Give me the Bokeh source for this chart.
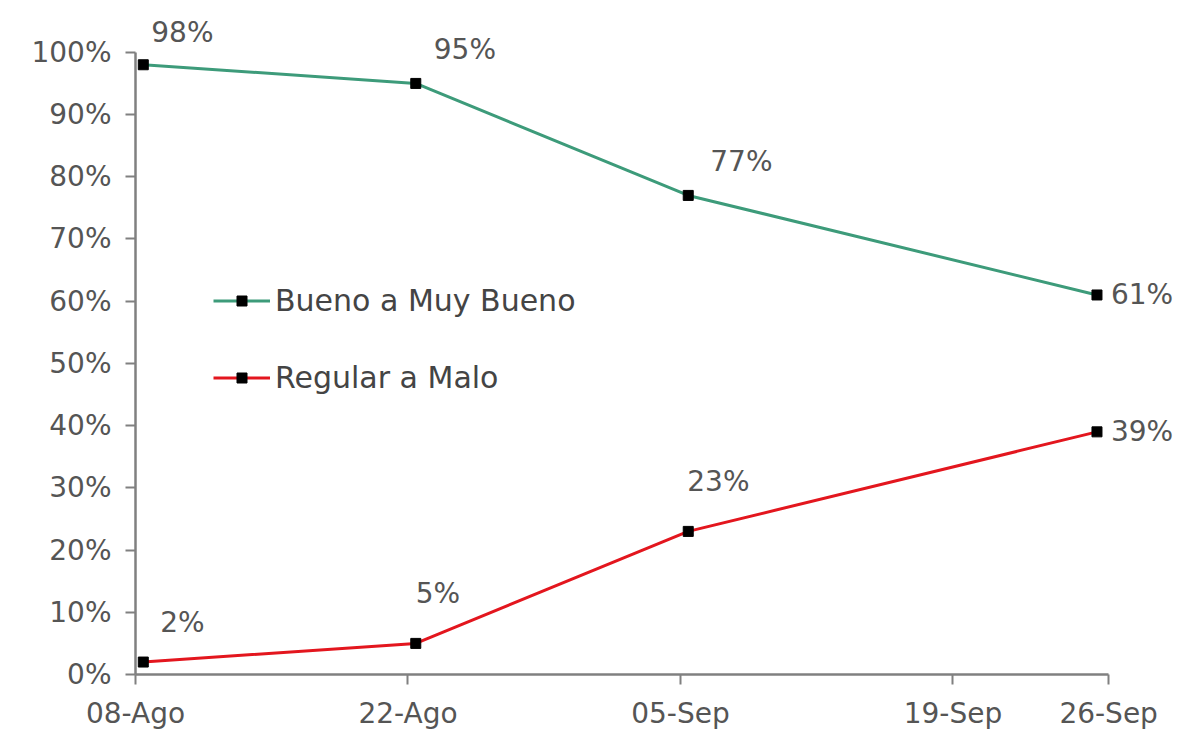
from bokeh.plotting import figure
from bokeh.models import (ColumnDataSource, Range1d, FixedTicker, PrintfTickFormatter,
                          Legend, LegendItem)
from bokeh.transform import dodge
from bokeh.core.properties import value
from bokeh.embed import file_html
from bokeh.resources import INLINE

# ---- data ----
dates = ["08-Ago", "22-Ago", "05-Sep", "26-Sep"]
days = [0, 14, 28, 49]              # days after 08-Ago
bueno = [98, 95, 77, 61]            # Bueno a Muy Bueno (%)
regular = [2, 5, 23, 39]            # Regular a Malo (%)
tick_days = [0, 14, 28, 42, 50]
tick_labels = ["08-Ago", "22-Ago", "05-Sep", "19-Sep", "26-Sep"]
y_ticks = [0, 10, 20, 30, 40, 50, 60, 70, 80, 90, 100]

# ---- label placement (style, screen px) ----
bueno_dx = [8, 18, 22, 14]
bueno_dy = [-32, -34, -34, 0]
regular_dx = [17, 0, -1, 14]
regular_dy = [-40, -50, -50, 0]

FONT = "DejaVu Sans"
TXT = "#555555"
AX = "#808080"
GREEN = "#3d9b7a"
RED = "#e3161e"

p = figure(width=1189, height=732, output_backend="svg", toolbar_location=None,
           x_range=Range1d(0, 54.0), y_range=Range1d(0, 106.4),
           min_border_left=135, min_border_right=3, min_border_top=12,
           min_border_bottom=55)
p.outline_line_color = None
p.grid.visible = False
p.background_fill_color = "white"
p.border_fill_color = "white"

src_b = ColumnDataSource(dict(x=days, y=bueno, label=[f"{v}%" for v in bueno],
                              dx=bueno_dx, dy=bueno_dy))
src_r = ColumnDataSource(dict(x=days, y=regular, label=[f"{v}%" for v in regular],
                              dx=regular_dx, dy=regular_dy))

xd = dodge("x", 0.4, range=p.x_range)

gl = p.line(x=xd, y="y", source=src_b, line_color=GREEN, line_width=3)
gs = p.scatter(x=xd, y="y", source=src_b, marker="square", size=10,
               fill_color="black", line_color="black")
rl = p.line(x=xd, y="y", source=src_r, line_color=RED, line_width=3)
rs = p.scatter(x=xd, y="y", source=src_r, marker="square", size=10,
               fill_color="black", line_color="black")

for s in (src_b, src_r):
    p.text(x=xd, y="y", text="label", source=s, x_offset="dx", y_offset="dy",
           text_font=value(FONT), text_font_size="28px", text_color=TXT,
           text_baseline="middle", text_align="left")

# axes
p.xaxis.bounds = (0, 50)
p.xaxis.ticker = FixedTicker(ticks=tick_days)
p.xaxis.major_label_overrides = {t: l for t, l in zip(tick_days, tick_labels)}
p.yaxis.bounds = (0, 100)
p.yaxis.ticker = FixedTicker(ticks=y_ticks)
p.yaxis.formatter = PrintfTickFormatter(format="%d%%")
for ax in (p.xaxis, p.yaxis):
    ax.axis_line_color = AX
    ax.axis_line_width = 2.5
    ax.major_tick_line_color = AX
    ax.major_tick_line_width = 2
    ax.major_tick_out = 10
    ax.major_tick_in = 0
    ax.minor_tick_line_color = None
    ax.major_label_text_font = FONT
    ax.major_label_text_font_size = "28px"
    ax.major_label_text_color = TXT
p.xaxis.major_label_standoff = 12
p.yaxis.major_label_standoff = 14

legend = Legend(items=[LegendItem(label="Bueno a Muy Bueno", renderers=[gl, gs]),
                       LegendItem(label="Regular a Malo", renderers=[rl, rs])],
                location=(78, 279), orientation="vertical",
                glyph_width=57, glyph_height=25, label_height=35, spacing=42,
                label_standoff=5, padding=0, margin=0,
                label_text_font=FONT, label_text_font_size="30px",
                label_text_color="#444444",
                border_line_color=None, background_fill_alpha=0)
p.add_layout(legend)

open("out.html", "w").write(file_html(p, INLINE))
